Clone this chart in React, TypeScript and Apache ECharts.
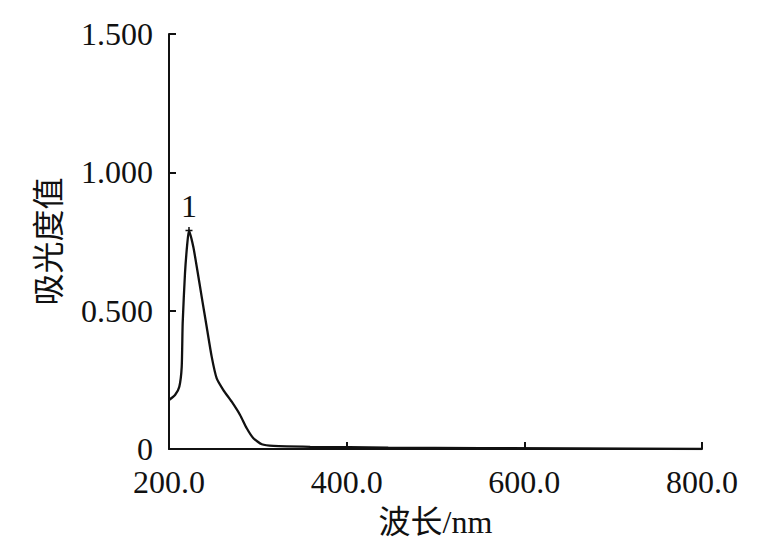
import React, { useEffect, useRef } from "react";
import * as echarts from "echarts";

const wavelengths = [200, 206.8, 211.6, 214.3, 215.4, 218, 220.6, 222.5, 227.4, 231.9, 236.8, 242.5, 248.1, 253.7, 261.2, 270.6, 280, 287.5, 295, 304.5, 317.5, 358.9, 446.8, 655, 800];
const absorbance = [0.177, 0.195, 0.225, 0.297, 0.455, 0.635, 0.743, 0.79, 0.73, 0.646, 0.55, 0.44, 0.333, 0.255, 0.213, 0.171, 0.123, 0.075, 0.039, 0.017, 0.011, 0.008, 0.005, 0.002, 0];
const peakLabel = "1";
const peakWavelength = 222.5;
const peakValue = 0.79;
const xName = "波长/nm";
const yName = "吸光度值";

const FONT = "'Liberation Serif', 'Noto Sans CJK SC', serif";

export default function App() {
  const ref = useRef<HTMLDivElement>(null);
  useEffect(() => {
    if (!ref.current) return;
    const chart = echarts.init(ref.current, null, { renderer: "svg" });
    const data = wavelengths.map((w, i) => [w, absorbance[i]]);
    chart.setOption({
      animation: false,
      backgroundColor: "#fff",
      textStyle: { fontFamily: FONT, color: "#111" },
      grid: { left: 169, right: 67, top: 34, bottom: 109 },
      xAxis: {
        type: "value",
        min: 200,
        max: 800,
        interval: 200,
        name: xName,
        nameLocation: "middle",
        nameGap: 57,
        nameTextStyle: { fontFamily: FONT, fontSize: 32, color: "#111" },
        axisLine: { lineStyle: { color: "#111", width: 2 } },
        axisTick: { inside: true, length: 7, lineStyle: { color: "#111", width: 2 } },
        axisLabel: { fontFamily: FONT, fontSize: 32, color: "#111", margin: 17, formatter: (v: number) => v.toFixed(1) },
        splitLine: { show: false },
      },
      yAxis: {
        type: "value",
        min: 0,
        max: 1.5,
        interval: 0.5,
        name: yName,
        nameLocation: "middle",
        nameRotate: 90,
        nameGap: 104,
        nameTextStyle: { fontFamily: FONT, fontSize: 32, color: "#111" },
        axisLine: { show: true, lineStyle: { color: "#111", width: 2 } },
        axisTick: { show: true, inside: true, length: 7, lineStyle: { color: "#111", width: 2 } },
        axisLabel: { fontFamily: FONT, fontSize: 32, color: "#111", margin: 16, formatter: (v: number) => (v === 0 ? "0" : v.toFixed(3)) },
        splitLine: { show: false },
      },
      series: [
        {
          type: "line",
          data,
          smooth: 0.2,
          showSymbol: false,
          lineStyle: { color: "#111", width: 2.3 },
          markPoint: {
            symbol: "path://M0,-1L0,1M-1,0L1,0",
            symbolSize: 7,
            itemStyle: { color: "#111", borderColor: "#111", borderWidth: 1.5 },
            label: { show: true, position: "top", distance: 4, formatter: peakLabel, fontFamily: FONT, fontSize: 32, color: "#111" },
            data: [{ coord: [peakWavelength, peakValue] }],
          },
        },
      ],
    });
    return () => chart.dispose();
  }, []);
  return <div ref={ref} style={{ position: "fixed", left: 0, top: 0, width: 769, height: 558, background: "#fff" }} />;
}
